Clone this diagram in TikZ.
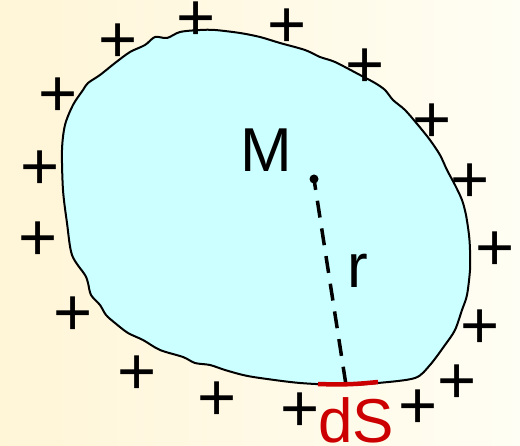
\documentclass[tikz,border=0pt]{standalone}
\usepackage{fontspec}
\setmainfont{Liberation Sans}
\definecolor{blobfill}{RGB}{204,255,255}
\definecolor{dsred}{RGB}{204,0,0}
\definecolor{bgleft}{RGB}{255,245,215}
\definecolor{bgright}{RGB}{255,254,244}
\begin{document}
\begin{tikzpicture}[x=1pt,y=-1pt,
  big/.style={font=\fontsize{62}{62}\selectfont, inner sep=0pt},
  plus/.style={font=\fontsize{67}{67}\selectfont, inner sep=0pt, anchor=center, yshift=-3.5pt},
  outline/.style={draw=black, line width=2pt, fill=blobfill},
  radius line/.style={draw=black, line width=3.5pt, dash pattern=on 17pt off 11pt, dash phase=6pt}]
\shade[left color=bgleft, right color=bgright] (0,0) rectangle (520,446);
\useasboundingbox (0,0) rectangle (520,446);
\path[outline] plot[smooth cycle, tension=0.5] coordinates {
(155,37) (167,38) (180,32) (200,30) (215,30) (240,33) (260,37) (280,43) (305,50) (320,57) (335,62)
(360,75) (375,83) (385,90) (393,100) (405,110) (418,125) (430,140) (440,155) (447,170) (455,185)
(462,200) (466,215) (469,235) (470,250) (470,270) (467,295) (462,310) (455,330) (445,345) (430,365)
(415,378) (378,383) (345,385) (300,383) (260,378) (243,375) (225,370) (210,365) (195,363) (183,357)
(160,350) (143,340) (128,333) (115,323) (106,315) (100,305) (91,295) (88,283) (85,275) (72,255)
(67,223) (63,190) (62,150) (65,125) (73,105) (83,90) (88,83) (100,75) (115,63) (130,52) (145,45)};
\coordinate (c) at (314,179);
\coordinate (e) at (346,385);
\coordinate (a1) at (318,384);
\coordinate (a2) at (378,382);
\draw[radius line] (c) -- (e);
\fill (c) circle (4.5pt);
\draw[dsred, line width=4.5pt] (a1) to[bend right=4] (a2);
\node[big, anchor=base] (M) at (266,172) {M};
\node[big, anchor=base] (r) at (358,288) {r};
\node[big, anchor=base, text=dsred] (dS) at (356,443) {dS};
\foreach \x/\y [count=\i] in {118/40,196/18,287/25,365/65,432/120,470/180,495/248,480/326,457/381,418/406,300/409,217/398,137/372,73/313,38/238,40/167,58/94}
  \node[plus] (p\i) at (\x,\y) {+};
\end{tikzpicture}
\end{document}
